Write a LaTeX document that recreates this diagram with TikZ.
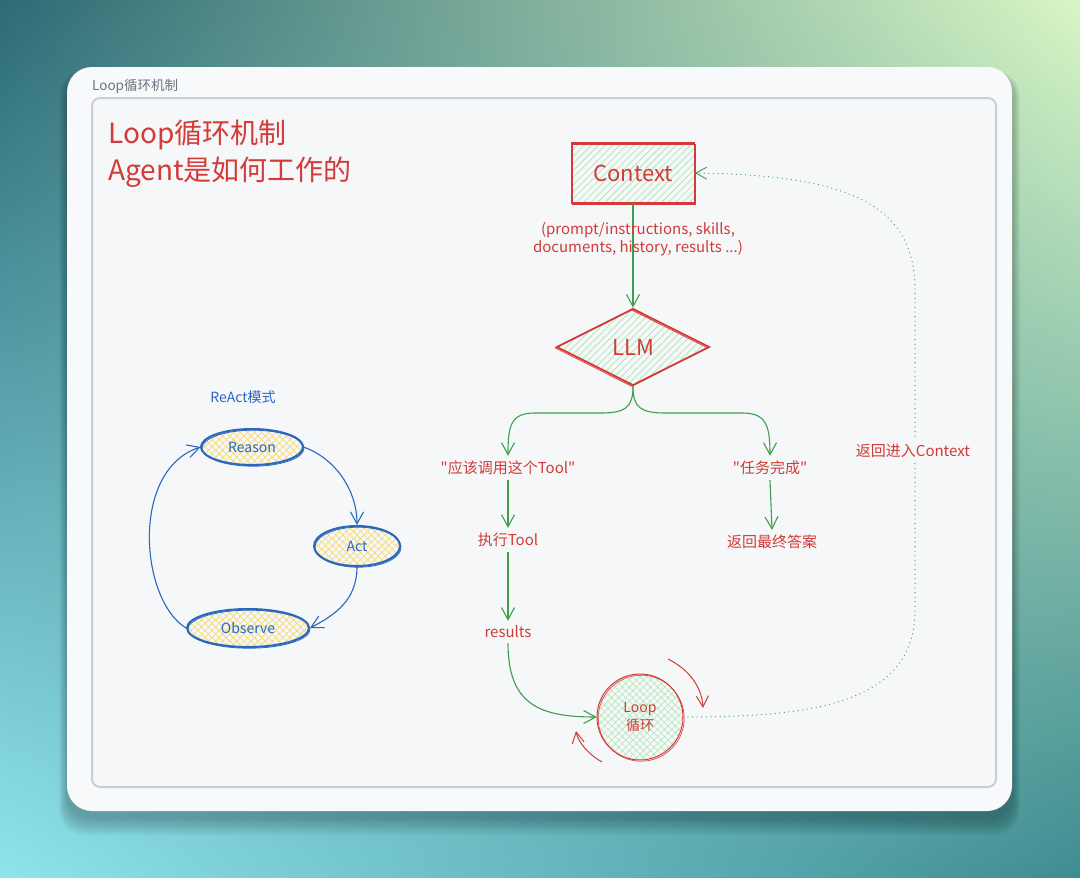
\documentclass[tikz,border=0pt]{standalone}
\usepackage{fontspec}
\setmainfont{Noto Sans CJK SC}[Ligatures=TeXOff]
\usetikzlibrary{shapes.geometric, arrows.meta, patterns.meta}
\definecolor{cardFill}{HTML}{F8F9FA}
\definecolor{frameFill}{HTML}{F5F7F9}
\definecolor{frameLine}{HTML}{CACED4}
\definecolor{hdrGray}{HTML}{6B7280}
\definecolor{exred}{HTML}{D23B38}
\definecolor{exgreen}{HTML}{3F9E4C}
\definecolor{hgreen}{HTML}{A8E6B0}
\definecolor{exblue}{HTML}{2B67BE}
\definecolor{hyellow}{HTML}{F5DC7A}
% bilinear background: corners TL 2C6A75, TR D8F6C4, BL 8FE4EE, BR 3E8C92
\pgfdeclarefunctionalshading{bgbilin}{\pgfpoint{0bp}{0bp}}{\pgfpoint{100bp}{100bp}}{}{
  25 sub 50 div exch 25 sub 50 div exch
  2 copy mul
  3 copy
  0.992 mul exch -0.388 mul add exch -0.318 mul add 0.561 add
  4 1 roll
  3 copy
  0.894 mul exch -0.478 mul add exch -0.345 mul add 0.894 add
  4 1 roll
  0.670 mul exch -0.474 mul add exch -0.360 mul add 0.933 add
}
\tikzset{
  titl/.style={text=exred, font=\fontsize{28}{32}\selectfont, inner sep=0pt},
  lbl/.style={text=exred, font=\fontsize{15}{18}\selectfont, inner sep=5pt},
  ctxbox/.style={draw=exred, line width=1.8pt, minimum width=123pt, minimum height=60pt,
    pattern={Lines[angle=45,distance=5pt,line width=0.7pt]}, pattern color=hgreen,
    text=exred, font=\fontsize{22}{26}\selectfont,
    postaction={draw=exred, line width=0.7pt, transform canvas={shift={(1.2pt,-1pt)}}}},
  llmd/.style={diamond, draw=exred, line width=1.8pt, minimum width=153pt, minimum height=77pt, inner sep=0pt,
    pattern={Lines[angle=45,distance=5pt,line width=0.7pt]}, pattern color=hgreen,
    text=exred, font=\fontsize{22}{26}\selectfont,
    postaction={draw=exred, line width=0.7pt, transform canvas={shift={(-1.5pt,-1pt)}}}},
  loopc/.style={circle, draw=exred, line width=1pt, minimum size=86pt, inner sep=0pt, align=center,
    pattern={Hatch[angle=45,distance=5pt,line width=0.5pt]}, pattern color=hgreen,
    text=exred, font=\fontsize{14}{18}\selectfont,
    postaction={draw=exred, line width=0.6pt, transform canvas={shift={(1.2pt,-1.2pt)}}}},
  ell/.style={ellipse, draw=exblue, line width=2pt, inner sep=0pt,
    pattern={Hatch[angle=45,distance=5pt,line width=0.8pt]}, pattern color=hyellow,
    text=exblue, font=\fontsize{14}{16}\selectfont,
    postaction={draw=exblue, line width=0.8pt, transform canvas={shift={(1pt,-1.2pt)}}}},
  btxt/.style={text=exblue, font=\fontsize{14}{16}\selectfont},
  garrow/.style={draw=exgreen, line width=1.1pt, -{Straight Barb[length=12pt, width=13pt, line width=1.1pt]}},
  barrow/.style={draw=exblue, line width=1.1pt, -{Straight Barb[length=12pt, width=13pt, line width=1.1pt]}},
  rarrow/.style={draw=exred, line width=1pt, -{Straight Barb[length=11pt, width=12pt, line width=1pt]}},
  dotarrow/.style={draw=exgreen, line width=1.2pt, dash pattern=on 0.1pt off 4.5pt, line cap=round,
    -{Straight Barb[length=11pt, width=12pt, line width=0.9pt]}}
}
\begin{document}
\begin{tikzpicture}[x=1pt, y=-1pt]
\useasboundingbox (0,0) rectangle (1080,878);
% background
\shade[shading=bgbilin] (0,0) rectangle (1080,878);
% soft shadow of the card
\foreach \i in {1,...,16} {
  \fill[black, opacity=0.015, rounded corners=25pt] (67-\i*0.5, 74-\i*0.2) rectangle (1012+\i*0.5, 818+\i*1.1);
}
% card
\fill[cardFill, rounded corners=25pt] (67,67) rectangle (1012,811);
\node[anchor=west, text=hdrGray, font=\fontsize{13.5}{15}\selectfont, inner sep=0pt] (hdr) at (92,86) {Loop循环机制};
\draw[frameLine, fill=frameFill, line width=2pt, rounded corners=8pt] (92,98) rectangle (996,787);

% title
\node[titl, anchor=west] (t1) at (108,135) {Loop循环机制};
\node[titl, anchor=west] (t2) at (108,172) {Agent是如何工作的};

% main flow
\node[ctxbox] (ctx) at (633,173) {Context};
\node[llmd] (llm) at (633,347) {LLM};
\draw[garrow] (ctx.south) -- (llm.north);
\node[lbl, align=center] (ctxlbl) at (638,239) {(prompt/instructions, skills,\\documents, history, results ...)};

\node[lbl] (q1) at (508,468) {"应该调用这个Tool"};
\node[lbl] (q2) at (770,468) {"任务完成"};
\node[lbl] (ex) at (508,540) {执行Tool};
\node[lbl] (fin) at (772,542) {返回最终答案};
\node[lbl] (res) at (508,632) {results};
\node[loopc] (loop) at (640,717) {Loop\\循环};

\draw[garrow] (llm.south) .. controls (633,408) and (625,413) .. (600,413) -- (535,413) .. controls (511,413) and (508,425) .. (q1.north);
\draw[garrow] (llm.south) .. controls (633,408) and (641,413) .. (666,413) -- (742,413) .. controls (766,413) and (770,425) .. (q2.north);
\draw[garrow] (q1.south) -- (ex.north);
\draw[garrow] (q2.south) -- (fin.north);
\draw[garrow] (ex.south) -- (res.north);
\draw[garrow] (res.south) .. controls (508,705) and (540,717) .. (loop.west);

% loop decorations
\coordinate (r1s) at (668,659);
\coordinate (r1e) at (703,708);
\coordinate (r2s) at (602,762);
\coordinate (r2e) at (576,731);
\draw[rarrow] (r1s) .. controls (690,670) and (702,688) .. (r1e);
\draw[rarrow] (r2s) .. controls (588,754) and (578,742) .. (r2e);

% return path
\draw[dotarrow] (loop.east) .. controls (810,717) and (915,705) .. (915,610) -- (915,290) .. controls (915,205) and (850,175) .. (ctx.east);
\node[lbl, fill=frameFill] (back) at (913,451) {返回进入Context};

% ReAct
\node[btxt] (rt) at (243,397) {ReAct模式};
\node[ell, minimum width=102pt, minimum height=36pt] (reason) at (252,447) {Reason};
\node[ell, minimum width=86pt, minimum height=40pt] (act) at (357,546) {Act};
\node[ell, minimum width=122pt, minimum height=38pt] (obs) at (248,628) {Observe};
\draw[barrow] (reason.east) .. controls (335,458) and (357,490) .. (act.north);
\draw[barrow] (act.south) .. controls (357,600) and (335,615) .. (obs.east);
\draw[barrow] (obs.west) .. controls (140,600) and (130,470) .. (reason.west);
\end{tikzpicture}
\end{document}
